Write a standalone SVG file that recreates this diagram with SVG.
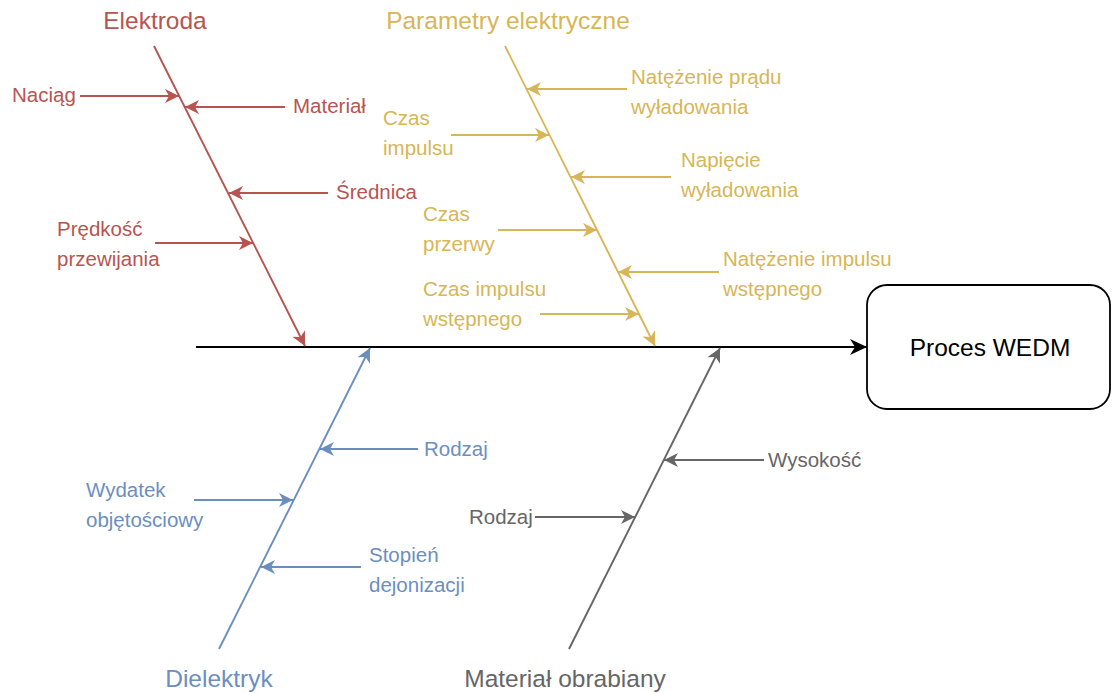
<svg xmlns="http://www.w3.org/2000/svg" width="1112" height="693" viewBox="0 0 1112 693">
  <style>
    text { font-family: "Liberation Sans", Arial, sans-serif; font-size: 20.5px; }
    .title { font-size: 24.5px; text-anchor: middle; }
    .effect { font-size: 24.5px; text-anchor: middle; fill: #000; }
    .red { fill: #b85450; }
    .yel { fill: #d6b656; }
    .blu { fill: #6c8ebf; }
    .gry { fill: #666666; }
    .ln { fill: none; stroke-width: 1.9; }
    .lr { stroke: #b85450; marker-end: url(#ar); }
    .ly { stroke: #d6b656; marker-end: url(#ay); }
    .lb { stroke: #6c8ebf; marker-end: url(#ab); }
    .lg { stroke: #666666; marker-end: url(#ag); }
  </style>
  <defs>
    <marker id="ar" markerUnits="userSpaceOnUse" markerWidth="15" markerHeight="14" refX="14" refY="7" orient="auto" overflow="visible"><path d="M0,0 L14,7 L0,14 L4,7 Z" fill="#b85450"/></marker>
    <marker id="ay" markerUnits="userSpaceOnUse" markerWidth="15" markerHeight="14" refX="14" refY="7" orient="auto" overflow="visible"><path d="M0,0 L14,7 L0,14 L4,7 Z" fill="#d6b656"/></marker>
    <marker id="ab" markerUnits="userSpaceOnUse" markerWidth="15" markerHeight="14" refX="14" refY="7" orient="auto" overflow="visible"><path d="M0,0 L14,7 L0,14 L4,7 Z" fill="#6c8ebf"/></marker>
    <marker id="ag" markerUnits="userSpaceOnUse" markerWidth="15" markerHeight="14" refX="14" refY="7" orient="auto" overflow="visible"><path d="M0,0 L14,7 L0,14 L4,7 Z" fill="#666666"/></marker>
    <marker id="ak" markerUnits="userSpaceOnUse" markerWidth="18" markerHeight="16" refX="17" refY="8" orient="auto" overflow="visible"><path d="M0,0 L17,8 L0,16 L5,8 Z" fill="#000000"/></marker>
  </defs>

  <!-- connectors: spine, category bones and cause arrows -->
  <g id="connectors">
    <line x1="196" y1="347" x2="867" y2="347" stroke="#000" stroke-width="2.2" marker-end="url(#ak)"/>

    <line class="ln lr" x1="154" y1="46" x2="305" y2="346"/>
    <line class="ln lr" x1="80" y1="96" x2="179" y2="96"/>
    <line class="ln lr" x1="285" y1="107" x2="185" y2="107"/>
    <line class="ln lr" x1="328" y1="193" x2="229" y2="193"/>
    <line class="ln lr" x1="155" y1="243" x2="253" y2="243"/>

    <line class="ln ly" x1="505" y1="46" x2="655" y2="346"/>
    <line class="ln ly" x1="627" y1="89" x2="527" y2="89"/>
    <line class="ln ly" x1="451" y1="135" x2="549" y2="135"/>
    <line class="ln ly" x1="671" y1="177" x2="571" y2="177"/>
    <line class="ln ly" x1="498" y1="230" x2="597" y2="230"/>
    <line class="ln ly" x1="719" y1="272" x2="618" y2="272"/>
    <line class="ln ly" x1="540" y1="314" x2="639" y2="314"/>

    <line class="ln lb" x1="219" y1="649" x2="370" y2="348"/>
    <line class="ln lb" x1="418" y1="449" x2="320" y2="449"/>
    <line class="ln lb" x1="194" y1="500" x2="293" y2="500"/>
    <line class="ln lb" x1="361" y1="567" x2="261" y2="567"/>

    <line class="ln lg" x1="569" y1="649" x2="720" y2="348"/>
    <line class="ln lg" x1="764" y1="460" x2="664" y2="460"/>
    <line class="ln lg" x1="535" y1="517" x2="635" y2="517"/>
  </g>

  <g id="effect">
    <rect x="867" y="285" width="243" height="124" rx="20" ry="20" fill="#fff" stroke="#000" stroke-width="1.8"/>
    <text class="effect" x="990" y="356">Proces WEDM</text>
  </g>

  <g id="elektroda">
    <text class="title red" x="155" y="29">Elektroda</text>
    <text class="red" x="12" y="102">Naciąg</text>
    <text class="red" x="293" y="113">Materiał</text>
    <text class="red" x="336" y="199">Średnica</text>
    <text class="red" x="57" y="236">Prędkość</text>
    <text class="red" x="57" y="266">przewijania</text>
  </g>

  <g id="parametry">
    <text class="title yel" x="508" y="29">Parametry elektryczne</text>
    <text class="yel" x="631" y="84">Natężenie prądu</text>
    <text class="yel" x="631" y="114">wyładowania</text>
    <text class="yel" x="383" y="125">Czas</text>
    <text class="yel" x="383" y="155">impulsu</text>
    <text class="yel" x="681" y="167">Napięcie</text>
    <text class="yel" x="681" y="197">wyładowania</text>
    <text class="yel" x="423" y="221">Czas</text>
    <text class="yel" x="423" y="251">przerwy</text>
    <text class="yel" x="723" y="266">Natężenie impulsu</text>
    <text class="yel" x="723" y="296">wstępnego</text>
    <text class="yel" x="423" y="296">Czas impulsu</text>
    <text class="yel" x="423" y="326">wstępnego</text>
  </g>

  <g id="dielektryk">
    <text class="title blu" x="219" y="687">Dielektryk</text>
    <text class="blu" x="424" y="456">Rodzaj</text>
    <text class="blu" x="86" y="497">Wydatek</text>
    <text class="blu" x="86" y="527">objętościowy</text>
    <text class="blu" x="369" y="562">Stopień</text>
    <text class="blu" x="369" y="592">dejonizacji</text>
  </g>

  <g id="material">
    <text class="title gry" x="565" y="687">Materiał obrabiany</text>
    <text class="gry" x="768" y="467">Wysokość</text>
    <text class="gry" x="469" y="524">Rodzaj</text>
  </g>
</svg>
